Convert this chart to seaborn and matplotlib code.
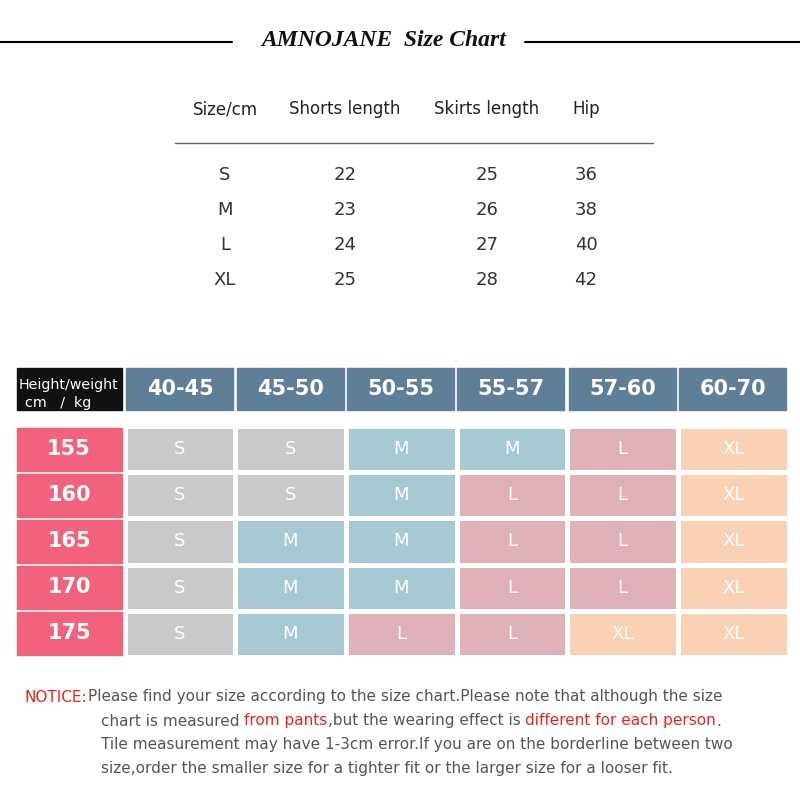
import matplotlib
matplotlib.use("Agg")
import matplotlib.pyplot as plt
import seaborn as sns
import numpy as np
from matplotlib.colors import ListedColormap
from matplotlib.patches import Rectangle

sizes_top = ["S", "M", "L", "XL"]
shorts_len = [22, 23, 24, 25]
skirts_len = [25, 26, 27, 28]
hip = [36, 38, 40, 42]
top_headers = ["Size/cm", "Shorts length", "Skirts length", "Hip"]

weights = ["40-45", "45-50", "50-55", "55-57", "57-60", "60-70"]
heights = ["155", "160", "165", "170", "175"]
grid = [["S", "S", "M", "M", "L", "XL"],
        ["S", "S", "M", "L", "L", "XL"],
        ["S", "M", "M", "L", "L", "XL"],
        ["S", "M", "M", "L", "L", "XL"],
        ["S", "M", "L", "L", "XL", "XL"]]
size_order = ["S", "M", "L", "XL"]
size_colors = ["#c9c9c9", "#a6c9d3", "#dfb1b6", "#fbd1b6"]

sns.set_theme(style="white")
plt.rcParams['font.family'] = ['DejaVu Sans']
fig = plt.figure(figsize=(8, 8), dpi=100)
bg = fig.add_axes([0, 0, 1, 1])
bg.set_xlim(0, 800); bg.set_ylim(800, 0); bg.axis("off")

# Title
bg.plot([0, 232], [42, 42], color="black", lw=1.5)
bg.plot([525, 800], [42, 42], color="black", lw=1.5)
bg.text(384, 40, "AMNOJANE  Size Chart", ha="center", va="center", fontsize=17,
        family="Liberation Serif", style="italic", weight="bold", color="#111")

# Top table
cx = [225, 345, 487, 586]
for x, h in zip(cx, top_headers):
    bg.text(x, 109, h, ha="center", va="center", fontsize=12, color="#222")
bg.plot([175, 653], [143, 143], color="#666", lw=1)
for i, s in enumerate(sizes_top):
    y = 175 + 35 * i
    for x, v in zip(cx, [s, shorts_len[i], skirts_len[i], hip[i]]):
        bg.text(x, y, str(v), ha="center", va="center", fontsize=13, color="#333")

# Header row
colx = [126, 237, 347, 457, 569, 679]
bg.add_patch(Rectangle((17, 368), 105, 42, color="#111"))
bg.text(69, 385, "Height/weight", ha="center", va="center", fontsize=10.3, color="white")
bg.text(58, 403, "cm   /  kg", ha="center", va="center", fontsize=10.3, color="white")
for x, w in zip(colx, weights):
    bg.add_patch(Rectangle((x, 368), 107, 42, color="#5f7e97"))
    bg.text(x + 54, 389, w, ha="center", va="center", fontsize=15, weight="bold", color="white")
for i, h in enumerate(heights):
    y = 428 + 46 * i
    bg.add_patch(Rectangle((17, y), 105, 43, color="#f2627c"))
    bg.text(69, y + 21, h, ha="center", va="center", fontsize=15, weight="bold", color="white")

# Heatmap grid
codes = np.array([[size_order.index(v) for v in r] for r in grid])
hax = fig.add_axes([124.5 / 800, 1 - 657 / 800, 664 / 800, 231 / 800])
sns.heatmap(codes, ax=hax, cmap=ListedColormap(size_colors), vmin=-0.5, vmax=3.5,
            cbar=False, linewidths=2.5, linecolor="white",
            annot=np.array(grid), fmt="", annot_kws={"fontsize": 13, "color": "white"})
hax.set_xticks([]); hax.set_yticks([])

# Notice
def line(x, y, parts):
    r = fig.canvas.get_renderer()
    for txt, col in parts:
        t = bg.text(x, y, txt, ha="left", va="center", fontsize=11, color=col)
        bb = t.get_window_extent(renderer=r)
        x += bb.width
red, gr = "#e8231c", "#555555"
line(25, 697, [("NOTICE:", red), ("Please find your size according to the size chart.Please note that although the size", gr)])
line(101, 721, [("chart is measured ", gr), ("from pants", red), (",but the wearing effect is ", gr), ("different for each person", red), (".", gr)])
line(101, 745, [("Tile measurement may have 1-3cm error.If you are on the borderline between two", gr)])
line(101, 769, [("size,order the smaller size for a tighter fit or the larger size for a looser fit.", gr)])

fig.savefig("out.png", dpi=100)
